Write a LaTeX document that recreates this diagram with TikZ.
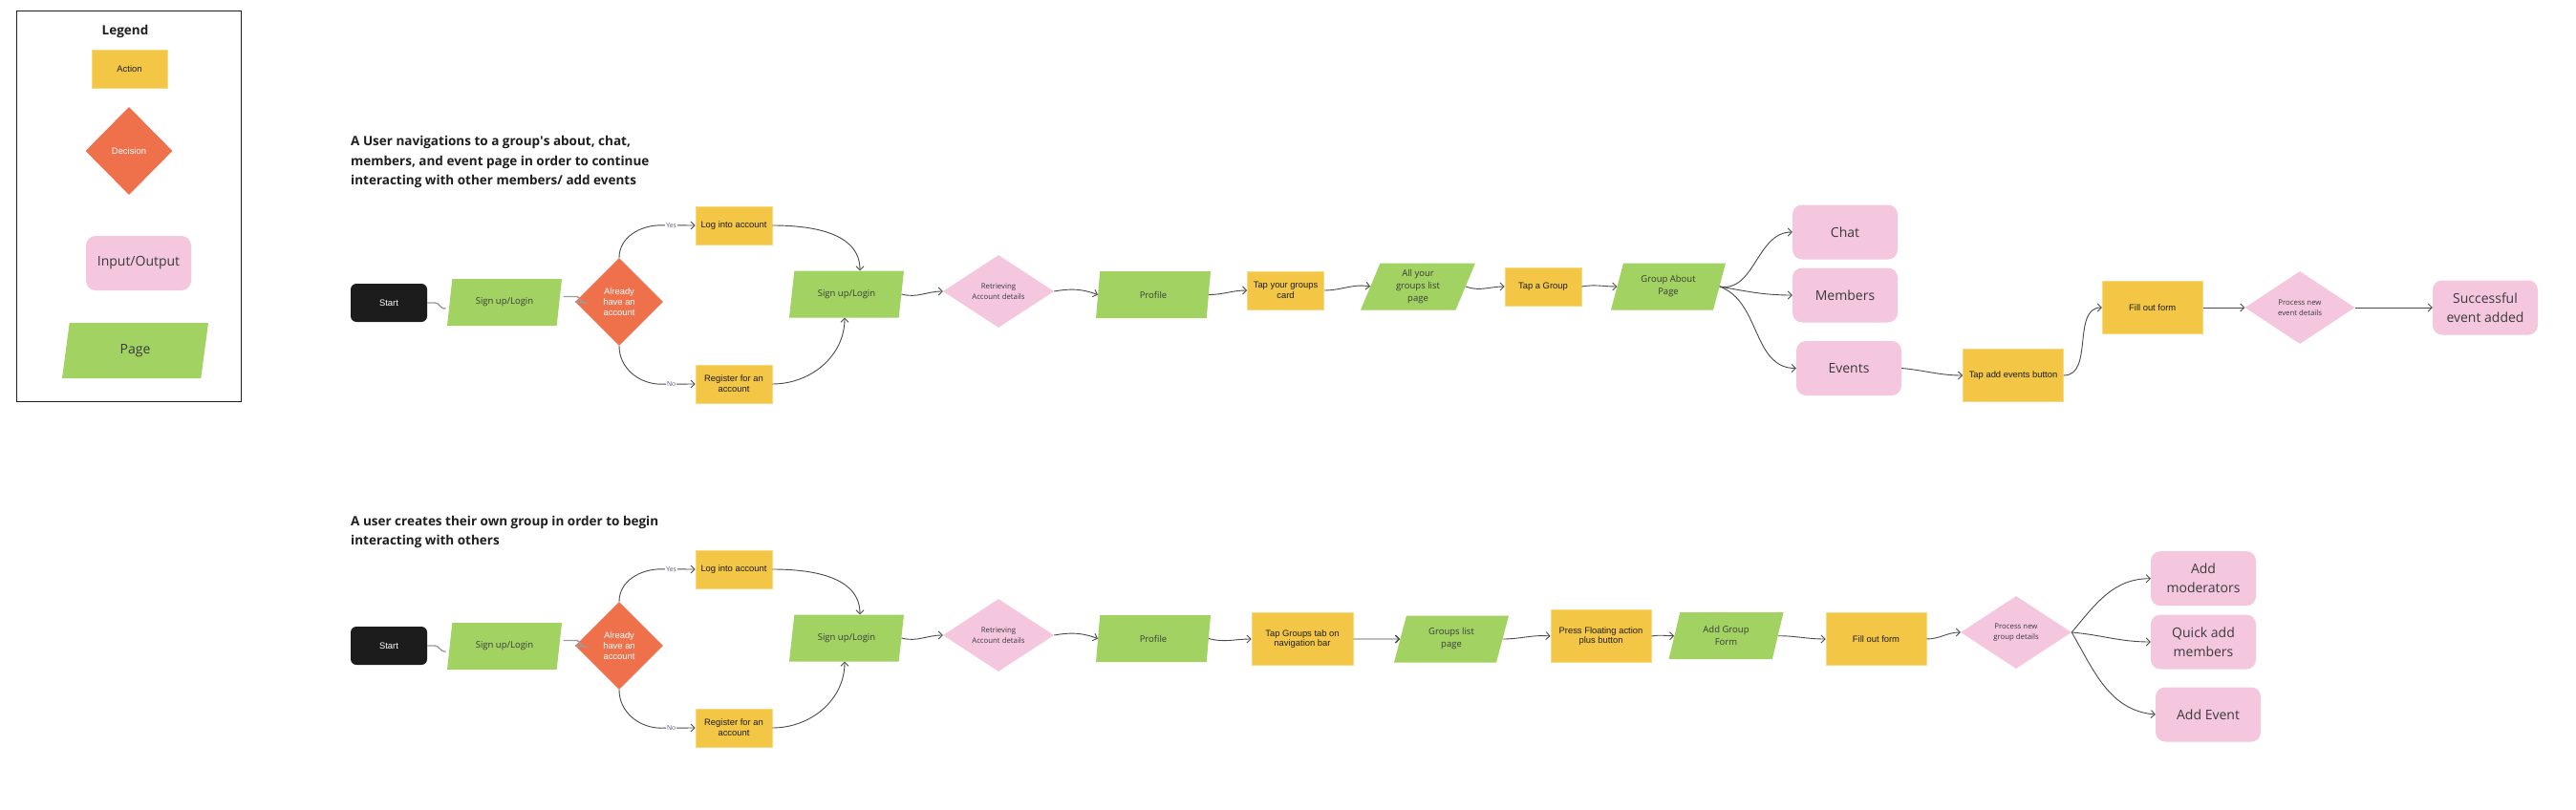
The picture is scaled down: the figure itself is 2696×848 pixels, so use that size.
\documentclass[tikz,border=0pt]{standalone}
\usepackage{fontspec}
\setmainfont{Open Sans}
\newfontfamily\arialfont{Liberation Sans}
\usetikzlibrary{shapes.geometric}
\usetikzlibrary{arrows.meta}
\usetikzlibrary{calc}
\definecolor{actionyellow}{HTML}{F3C646}
\definecolor{actionedge}{HTML}{F7D97E}
\definecolor{decisionorange}{HTML}{EE714B}
\definecolor{iopink}{HTML}{F4C7DE}
\definecolor{pagegreen}{HTML}{A1D262}
\definecolor{startblack}{HTML}{1C1C1C}
\definecolor{linkgray}{HTML}{4A4A4A}
\definecolor{stepgray}{HTML}{9C9C9C}
\definecolor{darktext}{HTML}{1E1E1E}
\definecolor{softtext}{HTML}{3A3A3A}
\definecolor{answercolor}{HTML}{55557A}
\tikzset{flow/.style = {draw=linkgray, line width=0.9pt, -{Straight Barb[length=4pt, width=8pt]}}}
\tikzset{plainlink/.style = {draw=stepgray, line width=1.4pt}}
\tikzset{action/.style = {rectangle, fill=actionyellow, draw=actionedge, line width=0.8pt,
                          text=darktext, font=\arialfont\fontsize{9.4}{10.8}\selectfont,
                          align=center, inner sep=0, minimum width=80pt, minimum height=40pt}}
\tikzset{bigaction/.style = {action, minimum width=105pt, minimum height=55pt}}
\tikzset{decision/.style = {diamond, fill=decisionorange, text=white,
                            font=\arialfont\fontsize{9.4}{11}\selectfont,
                            align=center, inner sep=0, minimum width=92pt, minimum height=92pt}}
\tikzset{process/.style = {diamond, fill=iopink, text=softtext,
                           font=\fontsize{7.8}{10.8}\selectfont,
                           align=center, inner sep=0, minimum width=116pt, minimum height=76pt}}
\tikzset{io/.style = {rectangle, rounded corners=10pt, fill=iopink, text=softtext,
                      font=\fontsize{14}{20}\selectfont, align=center, inner sep=0,
                      minimum width=110pt, minimum height=57pt}}
\tikzset{page/.style = {trapezium, trapezium left angle=60, trapezium right angle=120,
                        trapezium stretches body, fill=pagegreen, text=softtext,
                        font=\fontsize{9.5}{13}\selectfont, align=center, inner sep=0,
                        minimum width=120pt, minimum height=49pt}}
\tikzset{startbox/.style = {rectangle, rounded corners=6pt, fill=startblack, text=white,
                            font=\arialfont\fontsize{9.4}{11}\selectfont,
                            minimum width=80pt, minimum height=40pt}}
\tikzset{answer/.style = {fill=white, inner sep=1pt, text=answercolor,
                          font=\fontsize{6.8}{8}\selectfont}}
\tikzset{heading/.style = {anchor=north west, align=left, inner sep=0, text=darktext,
                           font=\bfseries\fontsize{13.5}{20.5}\selectfont}}

\begin{document}
\begin{tikzpicture}[x=1pt, y=-1pt]
  \fill [white] (0,0) rectangle (2696,848);
  \useasboundingbox (0,0) rectangle (2696,848);

  % legend
  \draw [line width=1.5pt, draw=darktext] (17.7,11.7) rectangle (252.7,420.7);
  \node [text=darktext, font=\bfseries\fontsize{13.5}{16}\selectfont] (legtitle) at (131,33) {Legend};
  \node [action, minimum width=79pt] (legaction) at (135.5,72) {Action};
  \node [decision, minimum width=91pt] (legdecision) at (135,158) {Decision};
  \node [io] (legio) at (145,275.5) {Input/Output};
  \node [page, minimum width=153pt, minimum height=58pt, font=\fontsize{14}{18}\selectfont] (legpage) at (141.5,367) {Page};

  % first flow
  \node [heading] (title1) at (367,142.5) {A User navigations to a group\textquotesingle s about, chat,\\
    members, and event page in order to continue\\interacting with other members/ add events};
  \node [startbox] (start1) at (407,317) {Start};
  \node [page] (sign1) at (528,316.5) {Sign up/Login};
  \node [decision] (dec1) at (648,316) {Already\\have an\\account};
  \node [action] (login1) at (768,236) {Log into account};
  \node [action] (reg1) at (768,402) {Register for an\\account};
  \node [page] (signb1) at (886,308) {Sign up/Login};
  \node [process] (retr1) at (1045,305) {Retrieving\\Account details};
  \node [page] (prof1) at (1207,308.5) {Profile};
  \node [action] (tapcard) at (1345.5,304) {Tap your groups\\card};
  \node [page] (allgroups) at (1484,300) {All your\\groups list\\page};
  \node [action] (tapgroup) at (1615,300) {Tap a Group};
  \node [page] (about) at (1746,300) {Group About\\Page};
  \node [io] (chat) at (1931,243) {Chat};
  \node [io] (members) at (1931,309) {Members};
  \node [io] (events) at (1935,385.5) {Events};
  \node [bigaction] (tapadd) at (2107,393) {Tap add events button};
  \node [bigaction] (fill1) at (2252.7,322) {Fill out form};
  \node [process, minimum width=115pt] (proc1) at (2407,322) {Process new\\event details};
  \node [io] (success) at (2601,322) {Successful\\event added};

  \draw [plainlink] (start1.east) -- ++(8,0) to[out=0,in=180] ++(10,6) -- ($(sign1.west)+(-4,6)$);
  \draw [plainlink] ($(sign1.east)+(4,-6)$) -- ++(14,0) to[out=0,in=180] ++(8,6.5) -- (dec1.west);
  \draw [flow] (dec1.north) to[out=90,in=180] ++(44,-34) -- node [answer, pos=0.3] {Yes} (login1.west);
  \draw [flow] (dec1.south) to[out=-90,in=180] ++(44,40) -- node [answer, pos=0.3] {No} (reg1.west);
  \draw [flow] (login1.east) to[out=0,in=90] ($(signb1.north)+(14,0)$);
  \draw [flow] (reg1.east) to[out=0,in=-90] ($(signb1.south)+(-2,0)$);
  \draw [flow] (signb1.east) to[out=-15,in=180] (retr1.west);
  \draw [flow] (retr1.east) to[out=10,in=160] (prof1.west);
  \draw [flow] (prof1.east) to[out=0,in=180] (tapcard.west);
  \draw [flow] (tapcard.east) to[out=0,in=170] (allgroups.west);
  \draw [flow] (allgroups.east) to[out=-20,in=180] (tapgroup.west);
  \draw [flow] (tapgroup.east) to[out=10,in=180] (about.west);
  \draw [flow] (about.east) to[out=-10,in=180] (chat.west);
  \draw [flow] (about.east) to[out=-10,in=180] (members.west);
  \draw [flow] (about.east) to[out=-20,in=180] (events.west);
  \draw [flow] (events.east) to[out=-5,in=180] (tapadd.west);
  \draw [flow] (tapadd.east) to[out=0,in=180] (fill1.west);
  \draw [flow] (fill1.east) -- (proc1.west);
  \draw [flow] (proc1.east) -- (success.west);

  % second flow
  \node [heading] (title2) at (367,540) {A user creates their own group in order to begin\\interacting with others};
  \node [startbox] (start2) at (407,676) {Start};
  \node [page] (sign2) at (528,676.5) {Sign up/Login};
  \node [decision] (dec2) at (648,676) {Already\\have an\\account};
  \node [action] (login2) at (768,596) {Log into account};
  \node [action] (reg2) at (768,762) {Register for an\\account};
  \node [page] (signb2) at (886,668) {Sign up/Login};
  \node [process] (retr2) at (1045,665) {Retrieving\\Account details};
  \node [page] (prof2) at (1207,668.5) {Profile};
  \node [bigaction, minimum width=106pt] (taptab) at (1363,669) {Tap Groups tab on\\navigation bar};
  \node [page] (grouplist) at (1519,669) {Groups list\\page};
  \node [bigaction] (pressfab) at (1675.5,666) {Press Floating action\\plus button};
  \node [page] (addform) at (1806.5,665.7) {Add Group\\Form};
  \node [bigaction] (fill2) at (1963.5,669) {Fill out form};
  \node [process] (proc2) at (2110,662) {Process new\\group details};
  \node [io] (addmod) at (2306,605.7) {Add\\moderators};
  \node [io] (quickadd) at (2306,672) {Quick add\\members};
  \node [io] (addevent) at (2311,748) {Add Event};

  \draw [plainlink] (start2.east) -- ++(8,0) to[out=0,in=180] ++(10,6) -- ($(sign2.west)+(-4,6)$);
  \draw [plainlink] ($(sign2.east)+(4,-6)$) -- ++(14,0) to[out=0,in=180] ++(8,6.5) -- (dec2.west);
  \draw [flow] (dec2.north) to[out=90,in=180] ++(44,-34) -- node [answer, pos=0.3] {Yes} (login2.west);
  \draw [flow] (dec2.south) to[out=-90,in=180] ++(44,40) -- node [answer, pos=0.3] {No} (reg2.west);
  \draw [flow] (login2.east) to[out=0,in=90] ($(signb2.north)+(14,0)$);
  \draw [flow] (reg2.east) to[out=0,in=-90] ($(signb2.south)+(-2,0)$);
  \draw [flow] (signb2.east) to[out=-15,in=180] (retr2.west);
  \draw [flow] (retr2.east) to[out=10,in=160] (prof2.west);
  \draw [flow] (prof2.east) to[out=-15,in=180] (taptab.west);
  \draw [plainlink, -{Straight Barb[length=4pt, width=8pt, color=linkgray]}] (taptab.east) -- (grouplist.west);
  \draw [flow] (grouplist.east) to[out=0,in=175] (pressfab.west);
  \draw [flow] (pressfab.east) to[out=10,in=180] (addform.west);
  \draw [flow] (addform.east) to[out=0,in=180] (fill2.west);
  \draw [flow] (fill2.east) to[out=0,in=180] (proc2.west);
  \draw [flow] (proc2.east) to[out=50,in=180] (addmod.west);
  \draw [flow] (proc2.east) to[out=-5,in=180] (quickadd.west);
  \draw [flow] (proc2.east) to[out=-60,in=175] (addevent.west);
\end{tikzpicture}
\end{document}
